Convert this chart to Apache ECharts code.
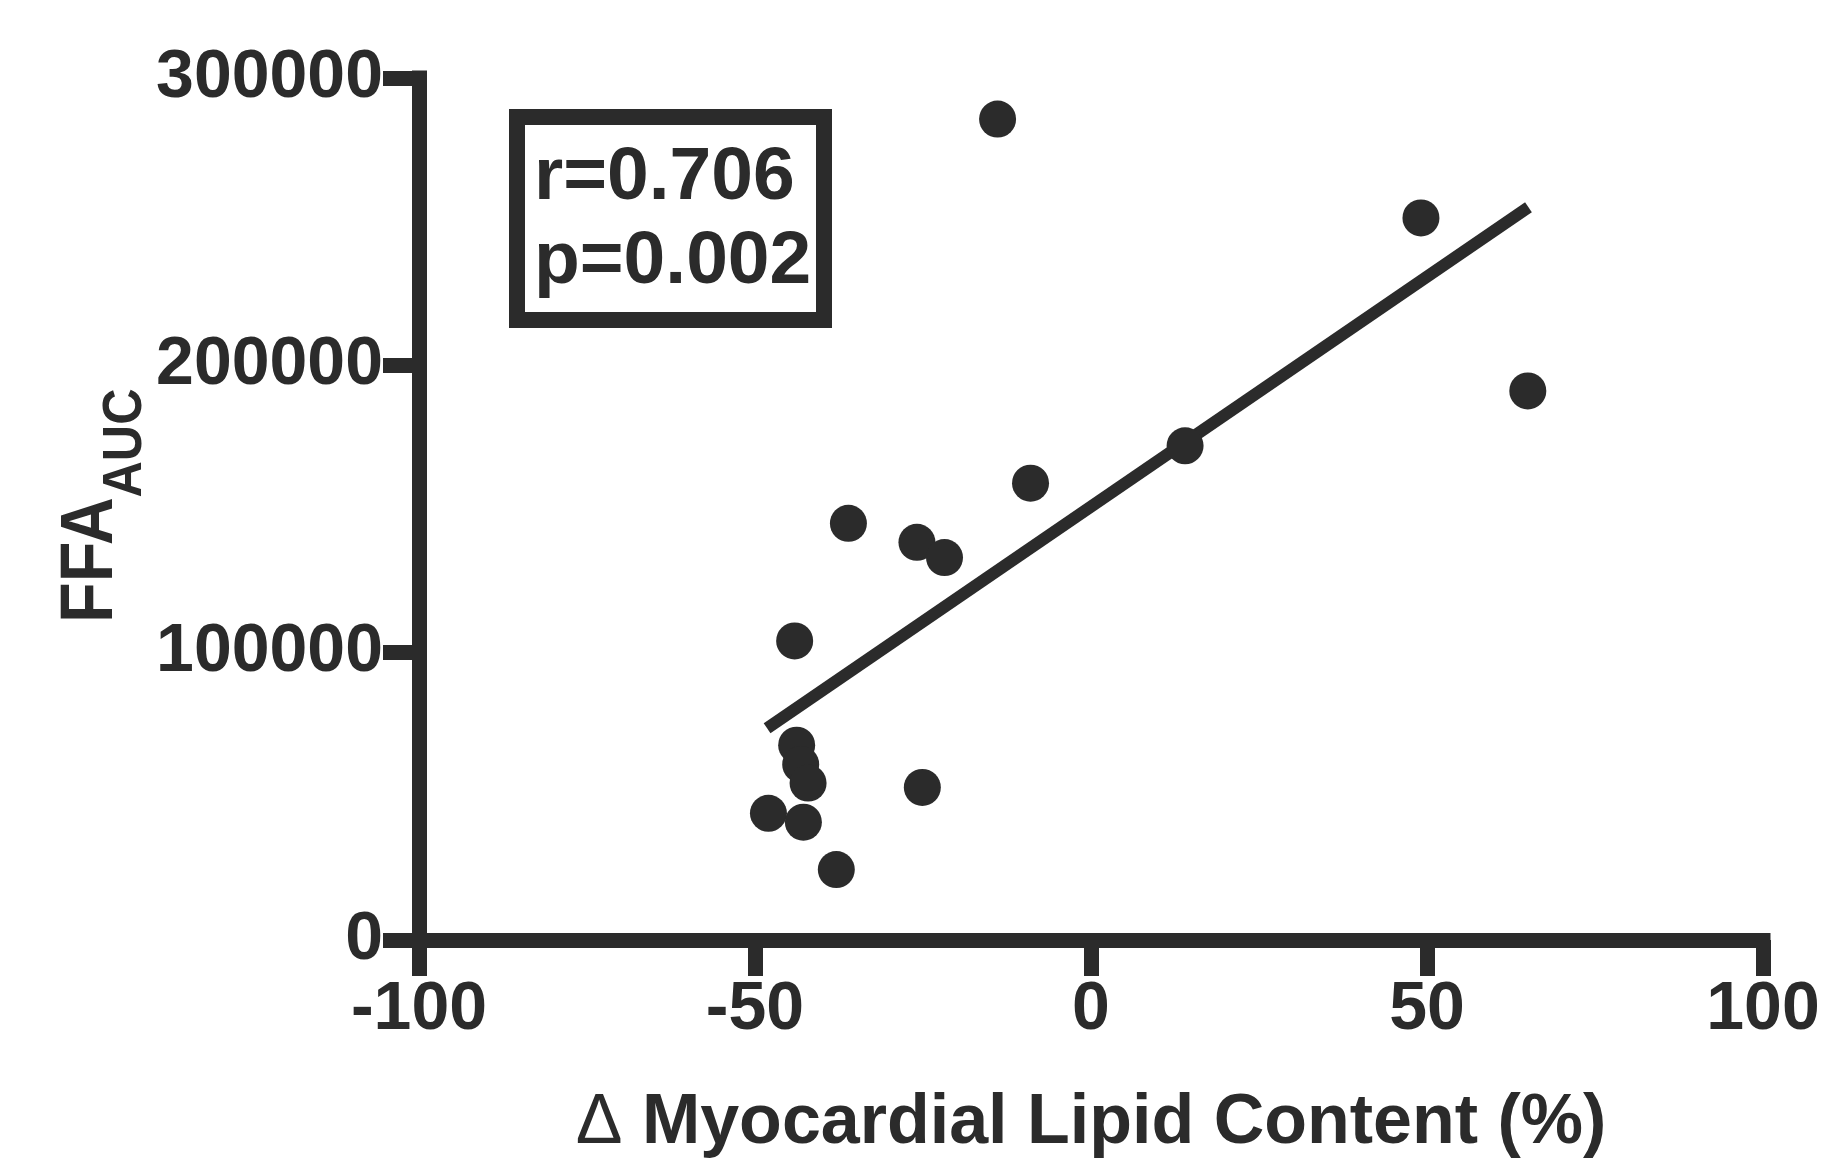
<!DOCTYPE html>
<html>
<head>
<meta charset="utf-8">
<script src="https://cdn.jsdelivr.net/npm/echarts@6/dist/echarts.min.js"></script>
<style>
html,body{margin:0;padding:0;background:#fff;}
#chart{width:1824px;height:1164px;}
</style>
</head>
<body>
<div id="chart"></div>
<script>
// Data
var lipidChange = [-36.1, -44.1, -25.9, -21.8, -9.0, 14.0, -43.8, -43.2, -42.1, -48.0, -42.8, -37.9, -25.1, -13.9, 49.1, 65.0];
var ffaAuc = [145000, 104100, 138400, 133100, 159000, 172000, 67800, 61100, 54600, 44100, 41000, 24500, 53100, 285700, 251300, 191100];
var fitX = [-48.2, 65.1];
var fitY = [73700, 255000];
var xTicks = [-100, -50, 0, 50, 100];
var yTicks = [0, 100000, 200000, 300000];
var statsText = ['r=0.706', 'p=0.002'];
var xTitleSymbol = '\u0394';
var xTitle = 'Myocardial Lipid Content (%)';
var yTitleMain = 'FFA';
var yTitleSub = 'AUC';

var INK = '#2b2b2b';
var FONT = '"Liberation Sans", Arial, Helvetica, sans-serif';

var points = lipidChange.map(function (x, i) { return [x, ffaAuc[i]]; });
var fitLine = fitX.map(function (x, i) { return [x, fitY[i]]; });

var chart = echarts.init(document.getElementById('chart'), null, {renderer: 'canvas'});
chart.setOption({
  backgroundColor: '#ffffff',
  animation: false,
  grid: {left: 419, right: 61, top: 78, bottom: 222, containLabel: false},
  xAxis: {
    type: 'value',
    min: xTicks[0], max: xTicks[xTicks.length - 1], interval: 50,
    splitLine: {show: false},
    axisLine: {show: true, onZero: false, lineStyle: {color: INK, width: 15, cap: 'square'}},
    axisTick: {show: true, length: 36, lineStyle: {color: INK, width: 15}},
    axisLabel: {color: INK, fontSize: 68, fontWeight: 'bold', fontFamily: FONT, margin: 36,
      formatter: function (v) { return String(v); }},
    name: '{d|' + xTitleSymbol + '} ' + xTitle,
    nameLocation: 'middle',
    nameGap: 149,
    nameTextStyle: {color: INK, fontSize: 70, fontWeight: 'bold', fontFamily: FONT,
      rich: {d: {color: INK, fontSize: 70, fontWeight: 'normal', fontFamily: FONT}}}
  },
  yAxis: {
    type: 'value',
    min: yTicks[0], max: yTicks[yTicks.length - 1], interval: 100000,
    splitLine: {show: false},
    axisLine: {show: true, onZero: false, lineStyle: {color: INK, width: 15, cap: 'square'}},
    axisTick: {show: true, length: 36, lineStyle: {color: INK, width: 15}},
    axisLabel: {color: INK, fontSize: 68, fontWeight: 'bold', fontFamily: FONT, margin: 36,
      formatter: function (v) { return String(v); }}
  },
  graphic: [
    {type: 'rect', shape: {x: 517, y: 117, width: 307, height: 203},
      style: {fill: '#ffffff', stroke: INK, lineWidth: 16}, z: 10},
    {type: 'text', x: 534, y: 178, z: 11,
      style: {text: statsText[0], fill: INK, fontSize: 75, fontWeight: 'bold', fontFamily: FONT, align: 'left', verticalAlign: 'middle'}},
    {type: 'text', x: 534, y: 262, z: 11,
      style: {text: statsText[1], fill: INK, fontSize: 75, fontWeight: 'bold', fontFamily: FONT, align: 'left', verticalAlign: 'middle'}},
    {type: 'text', x: 92, y: 560, rotation: Math.PI / 2, scaleX: 0.9, z: 11,
      style: {text: yTitleMain, fill: INK, fontSize: 74, fontWeight: 'bold', fontFamily: FONT, align: 'center', verticalAlign: 'middle'}},
    {type: 'text', x: 126, y: 443, rotation: Math.PI / 2, scaleX: 0.9, z: 11,
      style: {text: yTitleSub, fill: INK, fontSize: 56, fontWeight: 'bold', fontFamily: FONT, align: 'center', verticalAlign: 'middle'}}
  ],
  series: [
    {
      type: 'line',
      data: fitLine,
      symbol: 'none',
      lineStyle: {color: INK, width: 12, cap: 'butt'},
      z: 3
    },
    {
      type: 'scatter',
      data: points,
      symbol: 'circle',
      symbolSize: 37,
      itemStyle: {color: INK, opacity: 1},
      z: 4
    }
  ]
});
</script>
</body>
</html>
